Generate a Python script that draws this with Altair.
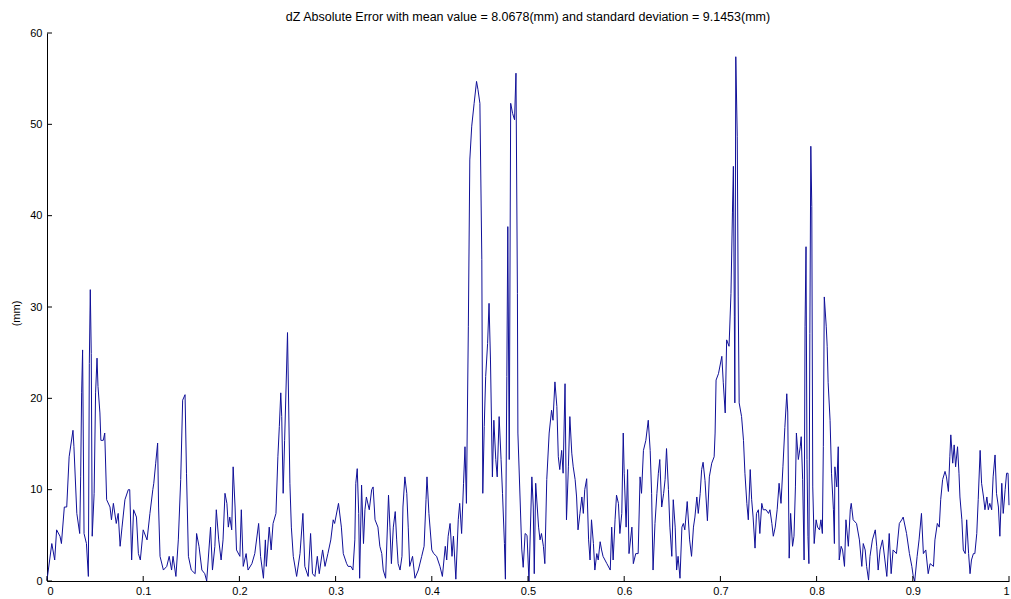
import altair as alt
import pandas as pd

# (t, absolute error in mm) samples, grouped by stretch of the time axis
seg_00 = [(0.000, 0.1), (0.005, 4.1), (0.008, 2.3), (0.010, 5.6), (0.0135, 4.9), (0.015, 4.1),
          (0.018, 8.1), (0.0205, 8.1), (0.023, 13.6), (0.027, 16.5), (0.028, 14.7), (0.031, 7.4),
          (0.034, 5.2), (0.035, 11.4), (0.036, 20.6), (0.037, 25.3), (0.0385, 5.2), (0.041, 4.1),
          (0.043, 0.5), (0.044, 23.8), (0.045, 31.9), (0.046, 24.9), (0.047, 4.9), (0.049, 9.6),
          (0.0505, 20.6), (0.052, 24.4), (0.053, 21.3), (0.055, 18.4), (0.056, 15.4), (0.0585, 15.4),
          (0.060, 16.2), (0.062, 8.9), (0.0655, 8.1), (0.067, 6.7), (0.069, 8.5), (0.072, 6.3),
          (0.074, 7.4), (0.076, 3.8), (0.078, 5.9), (0.081, 8.9), (0.0845, 10.0), (0.086, 10.0),
          (0.088, 2.3), (0.090, 7.8), (0.093, 7.0), (0.095, 3.0), (0.097, 2.3)]

seg_10 = [(0.100, 5.6), (0.104, 4.5), (0.107, 7.4), (0.110, 10.0), (0.111, 10.7), (0.113, 12.9),
          (0.115, 15.1), (0.116, 8.1), (0.1175, 2.7), (0.121, 1.2), (0.1245, 1.6), (0.127, 2.7),
          (0.1295, 1.2), (0.131, 2.7), (0.134, 0.5), (0.1365, 4.5), (0.139, 11.1), (0.141, 19.8),
          (0.1435, 20.4), (0.145, 11.8), (0.147, 2.7), (0.150, 1.2), (0.154, 0.8), (0.1555, 5.2),
          (0.158, 3.8), (0.161, 1.2), (0.164, 0.8), (0.166, 0.0), (0.170, 5.9), (0.172, 1.2),
          (0.1745, 3.8), (0.176, 7.8), (0.1785, 4.5), (0.181, 2.3), (0.183, 4.5), (0.185, 9.6),
          (0.187, 8.5), (0.1885, 5.9), (0.190, 7.0), (0.192, 5.6), (0.1935, 12.5), (0.1955, 8.1),
          (0.197, 3.4), (0.2005, 2.7)]

seg_20 = [(0.202, 7.8), (0.204, 1.6), (0.207, 3.0), (0.209, 1.2), (0.213, 1.9), (0.216, 3.0),
          (0.220, 6.3), (0.222, 2.7), (0.225, 0.3), (0.227, 4.5), (0.228, 1.6), (0.231, 5.9),
          (0.233, 3.4), (0.235, 6.3), (0.238, 7.4), (0.240, 13.6), (0.2415, 16.9), (0.243, 20.6),
          (0.244, 18.0), (0.2455, 9.6), (0.247, 15.4), (0.249, 23.1), (0.250, 27.2), (0.2525, 10.7),
          (0.254, 5.9), (0.256, 2.7), (0.2595, 0.5), (0.263, 3.0), (0.266, 7.4), (0.268, 1.6),
          (0.2715, 0.5), (0.274, 5.2), (0.276, 0.8), (0.2785, 0.5), (0.281, 2.7), (0.283, 0.8),
          (0.2865, 3.4), (0.289, 1.6), (0.292, 3.0), (0.295, 4.5), (0.2975, 6.7), (0.299, 6.3),
          (0.303, 8.5), (0.306, 5.9), (0.308, 3.0), (0.3115, 1.9)]

seg_30 = [(0.313, 1.6), (0.316, 1.6), (0.318, 1.2), (0.320, 4.5), (0.321, 10.7), (0.3225, 12.3),
          (0.324, 7.4), (0.325, 0.3), (0.327, 10.5), (0.329, 4.1), (0.3305, 7.8), (0.332, 9.2),
          (0.335, 7.8), (0.3375, 10.0), (0.339, 10.3), (0.341, 6.7), (0.344, 5.9), (0.346, 3.8),
          (0.348, 3.0), (0.3495, 1.2), (0.352, 0.3), (0.355, 9.4), (0.3565, 5.9), (0.358, 1.9),
          (0.360, 5.9), (0.362, 7.6), (0.3635, 4.5), (0.365, 1.9), (0.367, 1.2), (0.369, 2.7),
          (0.370, 8.1), (0.372, 11.4), (0.374, 9.6), (0.3755, 5.9), (0.377, 1.6), (0.380, 2.7),
          (0.3825, 0.3), (0.386, 1.2), (0.3895, 2.7), (0.392, 3.8), (0.394, 8.9), (0.395, 11.4),
          (0.397, 7.4), (0.400, 3.4), (0.402, 3.0), (0.405, 2.7), (0.4085, 1.6)]

seg_41 = [(0.411, 0.5), (0.414, 3.8), (0.4155, 2.3), (0.417, 4.9), (0.419, 6.3), (0.421, 2.7),
          (0.4225, 4.9), (0.425, 0.2), (0.4275, 6.7), (0.429, 8.5), (0.431, 5.2), (0.433, 10.7),
          (0.4345, 14.7), (0.436, 8.5), (0.438, 27.9), (0.4395, 46.1), (0.4415, 49.8), (0.444, 52.3),
          (0.4465, 54.7), (0.448, 53.8), (0.450, 52.3), (0.452, 35.2), (0.453, 9.6), (0.4545, 16.9),
          (0.456, 22.4), (0.458, 26.0), (0.4595, 30.4), (0.461, 24.2), (0.463, 11.4), (0.4645, 17.6),
          (0.4665, 13.3), (0.468, 11.4), (0.470, 18.0), (0.472, 13.3), (0.4735, 9.6), (0.4755, 4.1),
          (0.4765, 0.2), (0.478, 22.4), (0.479, 38.8), (0.4805, 13.3), (0.482, 52.3), (0.484, 51.2),
          (0.486, 50.5), (0.4875, 55.6), (0.489, 31.5), (0.4895, 16.2), (0.4935, 3.5), (0.495, 1.5),
          (0.497, 5.2), (0.499, 5.0), (0.501, 0.0)]

seg_50 = [(0.504, 11.4), (0.5055, 8.1), (0.5065, 0.8), (0.508, 10.7), (0.511, 5.9), (0.5125, 4.5),
          (0.514, 5.2), (0.516, 3.8), (0.5175, 1.9), (0.5195, 11.1), (0.522, 16.2), (0.5245, 18.7),
          (0.526, 17.6), (0.528, 21.8), (0.530, 19.1), (0.5315, 13.6), (0.533, 12.2), (0.535, 14.3),
          (0.5365, 11.8), (0.5385, 21.6), (0.540, 6.7), (0.542, 12.5), (0.5435, 18.0), (0.5455, 14.0),
          (0.547, 12.5), (0.549, 11.1), (0.5505, 9.2), (0.552, 5.6), (0.554, 7.4), (0.556, 9.2),
          (0.5575, 7.4), (0.559, 10.0), (0.561, 11.2), (0.563, 4.5), (0.5645, 2.3), (0.566, 6.7),
          (0.568, 4.1), (0.5695, 1.2), (0.5715, 3.0), (0.573, 2.3), (0.575, 4.3), (0.5765, 3.4),
          (0.578, 2.7), (0.582, 1.9), (0.5855, 1.2), (0.587, 5.9), (0.5885, 2.3), (0.5905, 6.7),
          (0.592, 9.4), (0.594, 8.5), (0.5955, 5.2)]

seg_60 = [(0.5975, 7.4), (0.599, 16.2), (0.600, 11.8), (0.602, 5.9), (0.6035, 12.2), (0.605, 3.0),
          (0.608, 5.9), (0.6095, 1.9), (0.612, 3.0), (0.6145, 3.0), (0.6165, 11.4), (0.618, 9.6),
          (0.620, 14.3), (0.6225, 15.4), (0.625, 17.6), (0.627, 14.3), (0.6285, 9.6), (0.630, 1.2),
          (0.632, 6.3), (0.634, 9.6), (0.6355, 11.8), (0.637, 13.3), (0.639, 8.1), (0.641, 9.6),
          (0.6425, 11.1), (0.644, 14.5), (0.646, 10.0), (0.6475, 5.9), (0.6495, 2.7), (0.651, 8.9),
          (0.653, 5.9), (0.6545, 1.2), (0.656, 2.7), (0.658, 0.3), (0.660, 5.9), (0.6615, 6.3),
          (0.663, 5.6), (0.6655, 8.7), (0.668, 4.5), (0.670, 2.7), (0.672, 5.9), (0.6735, 7.0),
          (0.6755, 9.2), (0.677, 7.4), (0.679, 9.6), (0.6805, 12.2), (0.682, 13.0), (0.684, 11.0),
          (0.6865, 6.6), (0.6885, 11.4), (0.691, 12.9), (0.6935, 13.6), (0.6945, 16.2)]

seg_70 = [(0.6955, 22.0), (0.698, 22.7), (0.7015, 24.6), (0.703, 21.7), (0.705, 18.4), (0.7065, 26.4),
          (0.709, 25.7), (0.711, 31.5), (0.7125, 40.3), (0.7135, 45.4), (0.7145, 29.0), (0.715, 19.5),
          (0.716, 57.4), (0.7175, 48.7), (0.7185, 31.1), (0.7195, 19.5), (0.722, 18.0), (0.724, 15.4),
          (0.7255, 11.8), (0.7275, 8.5), (0.729, 6.7), (0.731, 12.2), (0.7325, 8.9), (0.734, 7.0),
          (0.736, 3.6), (0.7375, 7.4), (0.7395, 7.8), (0.741, 5.2), (0.743, 8.5), (0.7445, 7.8),
          (0.7475, 7.8), (0.750, 7.4), (0.7515, 7.8), (0.7535, 6.3), (0.755, 4.9), (0.757, 5.9),
          (0.759, 7.8), (0.761, 10.7), (0.763, 8.5), (0.765, 12.5), (0.767, 16.8), (0.769, 20.5),
          (0.770, 18.5), (0.7715, 2.5), (0.773, 7.4), (0.775, 3.8), (0.7765, 4.9), (0.778, 10.3),
          (0.779, 16.2), (0.781, 13.3), (0.783, 14.7), (0.784, 15.8), (0.7855, 11.1), (0.787, 2.3),
          (0.788, 27.9), (0.789, 36.6), (0.790, 13.3), (0.791, 4.9), (0.792, 1.9), (0.793, 27.1),
          (0.794, 47.6), (0.795, 41.0), (0.796, 10.3), (0.7975, 4.1), (0.7995, 6.7)]

seg_80 = [(0.801, 5.9), (0.803, 5.6), (0.8045, 6.7), (0.806, 5.2), (0.807, 14.7), (0.808, 31.1),
          (0.810, 27.9), (0.811, 25.7), (0.812, 21.7), (0.814, 17.6), (0.8155, 11.8), (0.8175, 7.8),
          (0.8185, 4.1), (0.819, 12.5), (0.821, 10.3), (0.8225, 14.7), (0.8235, 2.3), (0.8255, 3.8),
          (0.827, 3.4), (0.829, 1.6), (0.8305, 6.7), (0.833, 3.8), (0.835, 7.8), (0.836, 8.5),
          (0.838, 6.7), (0.8415, 6.3), (0.8445, 4.5), (0.847, 1.6), (0.8485, 4.1), (0.8505, 3.4),
          (0.852, 1.6), (0.854, 0.1), (0.8555, 2.7), (0.858, 4.5), (0.861, 5.6), (0.8625, 3.8),
          (0.864, 1.2), (0.866, 3.4), (0.8685, 4.5), (0.871, 2.3), (0.873, 0.5), (0.8755, 5.2),
          (0.8775, 0.8), (0.8795, 3.4), (0.883, 3.0), (0.886, 6.3), (0.8885, 6.7), (0.890, 7.0),
          (0.8935, 5.2), (0.8965, 3.0), (0.899, 1.6)]

seg_90 = [(0.9005, 0.5), (0.902, 0.0), (0.9045, 2.7), (0.9065, 4.5), (0.909, 7.4), (0.911, 3.0),
          (0.9135, 3.4), (0.916, 0.8), (0.918, 1.9), (0.9215, 1.6), (0.923, 4.5), (0.9255, 6.3),
          (0.9275, 5.9), (0.929, 8.9), (0.931, 11.1), (0.9335, 12.0), (0.935, 11.4), (0.937, 9.8),
          (0.9385, 13.6), (0.9395, 16.0), (0.9415, 12.9), (0.943, 14.9), (0.9445, 12.5), (0.9465, 14.7),
          (0.948, 11.8), (0.949, 9.2), (0.951, 6.7), (0.9525, 3.4), (0.9545, 3.0), (0.956, 6.7),
          (0.958, 3.0), (0.9595, 0.8), (0.961, 2.3), (0.963, 3.0), (0.9645, 3.0), (0.9665, 5.2),
          (0.968, 8.9), (0.970, 14.3), (0.9715, 10.7), (0.9735, 9.2), (0.975, 7.8), (0.977, 9.2),
          (0.9785, 7.8), (0.980, 8.5), (0.982, 7.8), (0.9835, 11.4), (0.9855, 13.8), (0.987, 9.6),
          (0.989, 8.1), (0.9905, 4.9), (0.9925, 10.7), (0.994, 7.4), (0.996, 10.0), (0.9975, 11.8),
          (0.999, 11.8), (1.000, 8.3)]

x_ticks = [0, 0.1, 0.2, 0.3, 0.4, 0.5, 0.6, 0.7, 0.8, 0.9, 1]
y_ticks = [0, 10, 20, 30, 40, 50, 60]

title_text = "dZ Absolute Error with mean value = 8.0678(mm) and standard deviation = 9.1453(mm)"
y_title = "(mm)"

W, H = 962, 548
FONT = "Liberation Sans"
TICK_LEN = 5

samples = seg_00 + seg_10 + seg_20 + seg_30 + seg_41 + seg_50 + seg_60 + seg_70 + seg_80 + seg_90
df = pd.DataFrame(samples, columns=["t", "err"])

x_scale = alt.Scale(domain=[0, 1], nice=False, zero=False)
y_scale = alt.Scale(domain=[0, 60], nice=False)

x_axis = alt.Axis(values=x_ticks, format="~g", tickSize=0, labelPadding=4,
                  title=None, grid=False, domainColor="black", domainWidth=1,
                  labelFont=FONT, labelFontSize=11, labelColor="black")
y_axis = alt.Axis(values=y_ticks, tickSize=0, labelPadding=5,
                  title=y_title, grid=False, domainColor="black", domainWidth=1,
                  labelFont=FONT, labelFontSize=11, labelColor="black",
                  titleFont=FONT, titleFontSize=11, titleFontWeight="normal",
                  titleColor="black", titleAngle=270, titleAlign="center",
                  titleBaseline="middle", titleX=-31, titleY=280)

line = alt.Chart(df).mark_line(color="#101098", strokeWidth=1).encode(
    x=alt.X("t:Q", scale=x_scale, axis=x_axis),
    y=alt.Y("err:Q", scale=y_scale, axis=y_axis),
)

# MATLAB-style ticks pointing into the plot area
x_tick_marks = alt.Chart(pd.DataFrame({"t": x_ticks})).mark_rule(color="black", strokeWidth=1).encode(
    x=alt.X("t:Q", scale=x_scale, axis=x_axis),
    y=alt.value(H),
    y2=alt.value(H - TICK_LEN),
)
y_tick_marks = alt.Chart(pd.DataFrame({"err": y_ticks})).mark_rule(color="black", strokeWidth=1).encode(
    y=alt.Y("err:Q", scale=y_scale, axis=y_axis),
    x=alt.value(0),
    x2=alt.value(TICK_LEN),
)

chart = alt.layer(line, x_tick_marks, y_tick_marks).properties(
    width=W,
    height=H,
    background="white",
    title=alt.TitleParams(title_text, font=FONT, fontSize=12.5, fontWeight="normal",
                          color="black", anchor="middle", offset=4),
    autosize=alt.AutoSizeParams(type="none"),
    padding={"left": 47, "top": 33, "right": 2, "bottom": 18},
).configure_view(stroke=None, strokeWidth=0)

chart.save("out.html", embed_options={"renderer": "svg", "actions": False})
